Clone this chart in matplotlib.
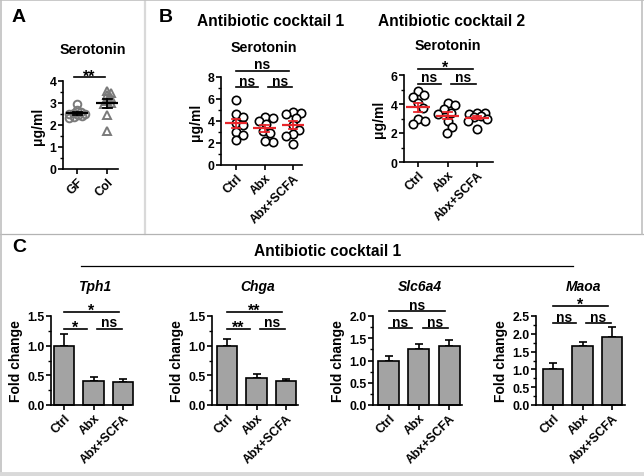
import matplotlib
matplotlib.use('Agg')
import matplotlib.pyplot as plt
import numpy as np
from matplotlib.lines import Line2D
from matplotlib.ticker import MultipleLocator
import matplotlib.transforms as mtrans

W, H = 644, 477
plt.rcParams['font.family'] = ['Liberation Sans', 'DejaVu Sans']
plt.rcParams['font.weight'] = 'bold'

# ---------------- data ----------------
a_groups = ['GF', 'Col']
a_gf = [2.95, 2.7, 2.6, 2.55, 2.5, 2.5, 2.45, 2.4, 2.35, 2.3]
a_col = [3.55, 3.45, 3.35, 3.25, 3.1, 3.0, 2.95, 2.47, 1.71]

groups = ['Ctrl', 'Abx', 'Abx+SCFA']
b1_ctrl = [5.9, 4.6, 4.4, 3.8, 3.6, 3.0, 2.7, 2.3]
b1_abx = [4.4, 4.3, 4.0, 3.7, 3.1, 2.9, 2.1, 2.2]
b1_scfa = [4.8, 4.7, 4.6, 4.3, 3.6, 3.2, 2.8, 2.6, 1.9]
b2_ctrl = [4.9, 4.6, 4.5, 4.1, 3.7, 3.0, 2.85, 2.6]
b2_abx = [4.1, 3.9, 3.65, 3.4, 3.3, 2.85, 2.4, 2.0]
b2_scfa = [3.4, 3.4, 3.3, 3.2, 3.1, 3.0, 2.8, 2.3]

genes = ['Tph1', 'Chga', 'Slc6a4', 'Maoa']
tph1_mean = [1.0, 0.40, 0.38]
tph1_sem = [0.20, 0.07, 0.05]
chga_mean = [1.0, 0.45, 0.40]
chga_sem = [0.12, 0.08, 0.04]
slc6a4_mean = [1.0, 1.25, 1.33]
slc6a4_sem = [0.10, 0.12, 0.13]
maoa_mean = [1.0, 1.65, 1.92]
maoa_sem = [0.18, 0.13, 0.28]

sig_a = '**'
sig_b1 = ['ns', 'ns', 'ns']   # Ctrl-Abx, Abx-SCFA, Ctrl-SCFA
sig_b2 = ['ns', 'ns', '*']
sig_tph1 = ['*', 'ns', '*']
sig_chga = ['**', 'ns', '**']
sig_slc6a4 = ['ns', 'ns', 'ns']
sig_maoa = ['ns', 'ns', '*']

# ---------------- figure ----------------
fig = plt.figure(figsize=(W / 100, H / 100), dpi=100)
fig.patch.set_facecolor('white')

TICK_FS = 8.8
SIG_FS = 10
STAR_FS = 11.5
YLAB_FS = 10


def fx(x):
    return x / W


def fy(y):
    return 1 - y / H


def add_ax(x0, x1, ytop, ybot, t0, t1, n, ylim):
    ax = fig.add_axes([x0 / W, 1 - ybot / H, (x1 - x0) / W, (ybot - ytop) / H])
    s = (t1 - t0) / (n - 1)
    ax.set_xlim((x0 - t0) / s, (x1 - t0) / s)
    ax.set_ylim(*ylim)
    for sp in ['top', 'right']:
        ax.spines[sp].set_visible(False)
    for sp in ['left', 'bottom']:
        ax.spines[sp].set_linewidth(1.2)
    ax.tick_params(axis='both', which='major', length=3.5, width=1.2,
                   labelsize=TICK_FS, pad=1.2)
    ax.tick_params(axis='y', which='minor', length=2.2, width=1.0)
    ax.patch.set_alpha(0)
    return ax, s


def set_xlabels(ax, labels):
    ax.set_xticks(range(len(labels)))
    ax.set_xticklabels(labels, rotation=45, ha='right', rotation_mode='anchor',
                       fontsize=TICK_FS, fontweight='bold')


def swarm(values, d, kx, ky, factor=0.85, max_off=10.0):
    vals = np.asarray(values, float)
    order = np.argsort(-vals)
    placed = []
    offs = np.zeros(len(vals))
    step = 1.0
    cands = [0.0]
    k = 1
    while k * step <= max_off:
        cands += [k * step, -k * step]
        k += 1
    for i in order:
        y = vals[i] * ky
        found = None
        best, best_d = 0.0, -1
        for x in cands:
            md = min([np.hypot(x - px, y - py) for px, py in placed] + [1e9])
            if md >= d * factor:
                found = x
                break
            if md > best_d:
                best, best_d = x, md
        if found is None:
            found = best
        placed.append((found, y))
        offs[i] = found / kx
    return offs


def mean_sem(ax, xc, vals, color, half_w, cap_w, lw):
    v = np.asarray(vals, float)
    m = v.mean()
    se = v.std(ddof=1) / np.sqrt(len(v))
    ax.plot([xc - half_w, xc + half_w], [m, m], color=color, lw=lw, zorder=4,
            solid_capstyle='butt', clip_on=False)
    ax.plot([xc, xc], [m - se, m + se], color=color, lw=lw * 0.8, zorder=4)
    for yy in (m - se, m + se):
        ax.plot([xc - cap_w, xc + cap_w], [yy, yy], color=color, lw=lw * 0.8, zorder=4)


def sig(ax, x1, x2, yfrac, text, ax_h_px):
    tr = mtrans.blended_transform_factory(ax.transData, ax.transAxes)
    ax.plot([x1, x2], [yfrac, yfrac], color='black', lw=1.2, transform=tr, clip_on=False)
    if '*' in text:
        off, fs = -3.0 / ax_h_px, STAR_FS   # asterisks sit high in the em box
    else:
        off, fs = 2.5 / ax_h_px, SIG_FS
    ax.text((x1 + x2) / 2, yfrac + off, text, transform=tr, ha='center',
            va='baseline', fontsize=fs, fontweight='bold', clip_on=False)


def sig3(ax, labels, ypair, ytop, ax_h_px):
    sig(ax, 0.0, 0.77, ypair, labels[0], ax_h_px)
    sig(ax, 1.12, 1.95, ypair, labels[1], ax_h_px)
    sig(ax, 0.0, 1.86, ytop, labels[2], ax_h_px)


# ---------------- panel A ----------------
axA, sA = add_ax(63, 118, 82, 170, 77, 107, 2, (0, 4))
axA.yaxis.set_major_locator(MultipleLocator(1))
axA.yaxis.set_minor_locator(MultipleLocator(0.5))
set_xlabels(axA, a_groups)
kyA = 88 / 4
offA = swarm(a_gf, 7, sA, kyA, factor=0.6, max_off=8)
axA.plot(0 + offA, a_gf, 'o', mfc='none', mec='#7a7a7a', ms=5.5, mew=1.4, clip_on=False, zorder=2)
offA2 = swarm(a_col, 7, sA, kyA, factor=0.6, max_off=9)
axA.plot(1 + offA2, a_col, '^', mfc='none', mec='#7a7a7a', ms=5.5, mew=1.4, clip_on=False, zorder=2)
mean_sem(axA, 0, a_gf, 'black', 0.38, 0.15, 1.6)
mean_sem(axA, 1, a_col, 'black', 0.38, 0.15, 1.6)
axA.set_ylabel('μg/ml', fontsize=YLAB_FS, fontweight='bold', labelpad=3)
sig(axA, -0.1, 0.93, 1.042, sig_a, 88)

# ---------------- panel B1 ----------------
axB1, sB1 = add_ax(221, 302, 78, 166, 236, 293, 3, (0, 8))
axB1.yaxis.set_major_locator(MultipleLocator(2))
axB1.yaxis.set_minor_locator(MultipleLocator(1))
set_xlabels(axB1, groups)
kyB1 = 88 / 8
for i, vals in enumerate([b1_ctrl, b1_abx, b1_scfa]):
    off = swarm(vals, 8.5, sB1, kyB1, factor=0.85, max_off=9)
    axB1.plot(i + off, vals, 'o', mfc='white', mec='black', ms=6, mew=1.2, clip_on=False, zorder=2)
    mean_sem(axB1, i, vals, '#e8262b', 0.4, 0.15, 1.6)
axB1.set_ylabel('μg/ml', fontsize=YLAB_FS, fontweight='bold', labelpad=3)
sig3(axB1, sig_b1, 0.883, 1.07, 88)

# ---------------- panel B2 ----------------
axB2, sB2 = add_ax(404, 493, 76, 163, 418, 477, 3, (0, 6))
axB2.yaxis.set_major_locator(MultipleLocator(2))
axB2.yaxis.set_minor_locator(MultipleLocator(1))
set_xlabels(axB2, groups)
kyB2 = 87 / 6
for i, vals in enumerate([b2_ctrl, b2_abx, b2_scfa]):
    off = swarm(vals, 8.5, sB2, kyB2, factor=0.85, max_off=10)
    axB2.plot(i + off, vals, 'o', mfc='white', mec='black', ms=6, mew=1.2, clip_on=False, zorder=2)
    mean_sem(axB2, i, vals, '#e8262b', 0.4, 0.15, 1.6)
axB2.set_ylabel('μg/ml', fontsize=YLAB_FS, fontweight='bold', labelpad=3)
sig3(axB2, sig_b2, 0.897, 1.069, 87)

# ---------------- panel C ----------------
c_specs = [
    (genes[0], tph1_mean, tph1_sem, sig_tph1, (51, 131, 64, 123), 1.5, 0.5, 0.854, 1.045),
    (genes[1], chga_mean, chga_sem, sig_chga, (212, 298, 227, 286), 1.5, 0.5, 0.854, 1.048),
    (genes[2], slc6a4_mean, slc6a4_sem, sig_slc6a4, (373, 462, 389, 449), 2.0, 0.5, 0.865, 1.056),
    (genes[3], maoa_mean, maoa_sem, sig_maoa, (536, 625, 553, 612), 2.5, 0.5, 0.921, 1.112),
]
for name, means, sems, sg, (x0, x1, t0, t1), ymax, maj, yp, yt in c_specs:
    ax, s = add_ax(x0, x1, 317, 406, t0, t1, 3, (0, ymax))
    ax.yaxis.set_major_locator(MultipleLocator(maj))
    ax.yaxis.set_minor_locator(MultipleLocator(maj / 2))
    ax.yaxis.set_major_formatter(matplotlib.ticker.FormatStrFormatter('%.1f'))
    set_xlabels(ax, groups)
    xs = np.arange(3)
    ax.errorbar(xs, means, yerr=[np.zeros(3), sems], fmt='none', ecolor='black',
                elinewidth=1.2, capsize=3, capthick=1.2, zorder=1, clip_on=False)
    ax.bar(xs, means, width=0.7, color='#a3a3a3', edgecolor='black', linewidth=1.2,
           zorder=2, clip_on=False)
    ax.set_ylabel('Fold change', fontsize=YLAB_FS, fontweight='bold', labelpad=3)
    sig3(ax, sg, yp, yt, 89)
    cx = (t0 + t1) / 2
    fig.text(fx(cx + 1), fy(287), name, ha='center', va='center', fontsize=10,
             fontweight='bold', fontstyle='italic')

# ---------------- titles and labels ----------------
fig.text(fx(12), fy(17), 'A', ha='left', va='center', fontsize=14, fontweight='bold')
fig.text(fx(159), fy(18), 'B', ha='left', va='center', fontsize=14, fontweight='bold')
fig.text(fx(12), fy(248), 'C', ha='left', va='center', fontsize=14, fontweight='bold')

fig.text(fx(93), fy(50), 'Serotonin', ha='center', va='center', fontsize=10.3, fontweight='bold')
fig.text(fx(271), fy(22), 'Antibiotic cocktail 1', ha='center', va='center', fontsize=11.2, fontweight='bold')
fig.text(fx(452), fy(22), 'Antibiotic cocktail 2', ha='center', va='center', fontsize=11.2, fontweight='bold')
fig.text(fx(264), fy(48), 'Serotonin', ha='center', va='center', fontsize=10.3, fontweight='bold')
fig.text(fx(448), fy(46), 'Serotonin', ha='center', va='center', fontsize=10.3, fontweight='bold')
fig.text(fx(328), fy(252), 'Antibiotic cocktail 1', ha='center', va='center', fontsize=11.2, fontweight='bold')
fig.add_artist(Line2D([fx(81), fx(573)], [fy(267), fy(267)], color='black', lw=0.9))

# ---------------- panel frames ----------------
fig.add_artist(Line2D([fx(145), fx(145)], [fy(0), fy(235)], color='#d9d9d9', lw=1.6))
fig.add_artist(Line2D([fx(0), fx(644)], [fy(235), fy(235)], color='#b3b3b3', lw=0.9))
fig.add_artist(Line2D([fx(0), fx(644)], [fy(1.2), fy(1.2)], color='#c0c0c0', lw=1.2))
fig.add_artist(Line2D([fx(0.8), fx(0.8)], [fy(0), fy(477)], color='#c0c0c0', lw=1.2))
fig.add_artist(Line2D([fx(642), fx(642)], [fy(0), fy(235)], color='#c0c0c0', lw=1.2))
fig.add_artist(Line2D([fx(0), fx(644)], [fy(475), fy(475)], color='#d9d9d9', lw=3.5))

fig.savefig('out.png', dpi=100)
